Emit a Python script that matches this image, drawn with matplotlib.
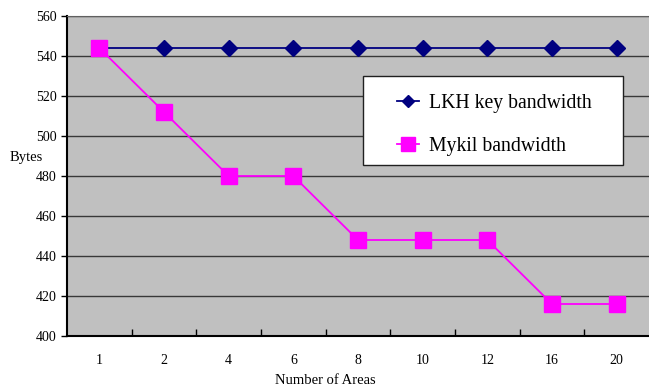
import numpy as np
import matplotlib.pyplot as plt
from matplotlib.patches import Rectangle

areas = ['1', '2', '4', '6', '8', '10', '12', '16', '20']
lkh_bw = [544, 544, 544, 544, 544, 544, 544, 544, 544]
mykil_bw = [544, 512, 480, 480, 448, 448, 448, 416, 416]

plt.rcParams['font.family'] = 'Liberation Serif'

W, H = 649, 389
fig = plt.figure(figsize=(W/100, H/100), dpi=100)
ax = fig.add_axes([67/W, 1-336/H, 1-67/W, 320/H])
ax.set_facecolor('#C0C0C0')

x = np.arange(len(areas))
ax.plot(x, lkh_bw, color='#000080', marker='D', markersize=8, linewidth=1.3,
        label='LKH key bandwidth', zorder=3)
ax.plot(x, mykil_bw, color='#FF00FF', marker='s', markersize=12, linewidth=1.3,
        label='Mykil bandwidth', zorder=3)

ax.set_ylim(400, 560)
ax.set_yticks(range(400, 561, 20))
ax.set_xlim(-0.5, len(areas) - 0.5)
ax.set_xticks(x)
ax.set_xticklabels(areas)
ax.set_xticks(np.arange(0.5, len(areas) - 1, 1), minor=True)
ax.tick_params(axis='x', which='major', length=0, pad=13, labelsize=10)
ax.tick_params(axis='x', which='minor', length=5, width=1, direction='in')
ax.tick_params(axis='y', length=4, width=1, labelsize=10, direction='out')
ax.yaxis.grid(True, color='#383838', linewidth=1)
ax.set_axisbelow(True)

for s in ['left', 'bottom']:
    ax.spines[s].set_color('black')
    ax.spines[s].set_linewidth(1.5)
ax.spines['top'].set_color('#606060')
ax.spines['right'].set_visible(False)

fig.text(325/W, 1-380/H, 'Number of Areas', fontsize=10.5, ha='center', va='center')
fig.text(10/W, 1-158/H, 'Bytes', fontsize=10.5, va='center', ha='left')

# legend box
box = Rectangle((363/W, 1-165/H), 260/W, 89/H, transform=fig.transFigure,
                facecolor='white', edgecolor='#202020', linewidth=1,
                zorder=4, clip_on=False)
ax.add_patch(box)
leg = ax.legend(loc='upper left', bbox_to_anchor=(397/W, 1-94/H),
                bbox_transform=fig.transFigure, fontsize=14.2, frameon=False,
                borderpad=0, labelspacing=1.2, handlelength=1.1,
                handletextpad=0.5, borderaxespad=0, markerscale=0.8)
leg.set_zorder(5)

fig.savefig('out.png', dpi=100)
